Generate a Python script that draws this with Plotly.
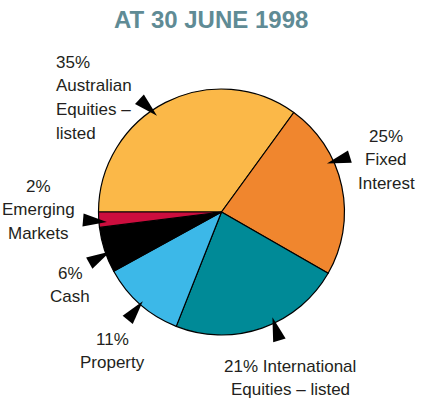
import math
import plotly.graph_objects as go

# ---------------- data ----------------
categories = ["Australian Equities – listed", "Fixed Interest",
              "International Equities – listed", "Property", "Cash",
              "Emerging Markets"]
values = [35, 23.3, 22.7, 11, 6, 2]          # slice sizes as drawn
pct_labels = ["35%", "25%", "21%", "11%", "6%", "2%"]
label_lines = [
    ["35%", "Australian", "Equities –", "listed"],
    ["25%", "Fixed", "Interest"],
    ["21% International", "Equities – listed"],
    ["11%", "Property"],
    ["6%", "Cash"],
    ["2%", "Emerging", "Markets"],
]
title_text = "AT 30 JUNE 1998"

# ---------------- styles / layout ----------------
colors = ["#FBB848", "#F0862E", "#008A97", "#3CB8E8", "#000000", "#CC0E3E"]
W, H = 422, 405
CX, CY, R = 221.5, 212.0, 123.0
START = 270.0  # degrees clockwise from 12 o'clock

def px(x):
    return x / W

def py(y):
    return 1 - y / H

# label placement: (anchor x px, xanchor, first baseline px)
label_pos = [
    (54, "left", 68),
    (386, "center", 142),
    (290, "center", 372),
    (112, "center", 345),
    (70, "center", 279),
    (38, "center", 192),
]
LINE_GAP = 23.7
FONT = "Liberation Sans, Arial, sans-serif"
FSIZE = 17

# arrow: fraction through slice, inset from edge (px), pointing direction (deg, screen)
arrow_par = [
    (0.446, 7, 43),
    (0.35, 7, 163),
    (0.42, 6, -107),
    (0.50, 4, -51),
    (0.43, 5, -29),
    (0.30, 8, 5),
]
A_LEN, A_HALF = 24, 6.5

fig = go.Figure(go.Pie(
    labels=categories,
    values=values,
    sort=False,
    direction="clockwise",
    rotation=START,
    marker=dict(colors=colors, line=dict(color="#000000", width=1.2)),
    textinfo="none",
    hoverinfo="none",
    showlegend=False,
    domain=dict(x=[px(CX - R), px(CX + R)], y=[py(CY + R), py(CY - R)]),
))

annotations = []
for lines, (ax, xanc, base) in zip(label_lines, label_pos):
    for i, ln in enumerate(lines):
        b = base + i * LINE_GAP
        annotations.append(dict(
            text=ln, x=px(ax), y=py(b - 6), xref="paper", yref="paper",
            xanchor=xanc, yanchor="middle", showarrow=False,
            font=dict(family=FONT, size=FSIZE, color="#231F20")))

shapes = []
total = sum(values)
cum = 0.0
for v, (frac, inset, dirdeg) in zip(values, arrow_par):
    a0 = START + cum / total * 360
    span = v / total * 360
    ang = math.radians(a0 + frac * span)
    cum += v
    rr = R - inset
    tx = CX + rr * math.sin(ang)
    ty = CY - rr * math.cos(ang)
    d = math.radians(dirdeg)
    ux, uy = math.cos(d), math.sin(d)
    bx, by = tx - A_LEN * ux, ty - A_LEN * uy
    nx, ny = -uy, ux
    p1 = (bx + A_HALF * nx, by + A_HALF * ny)
    p2 = (bx - A_HALF * nx, by - A_HALF * ny)
    path = "M{:.4f},{:.4f} L{:.4f},{:.4f} L{:.4f},{:.4f} Z".format(
        px(tx), py(ty), px(p1[0]), py(p1[1]), px(p2[0]), py(p2[1]))
    shapes.append(dict(type="path", path=path, xref="paper", yref="paper",
                       fillcolor="#000000", line=dict(width=0)))

annotations.append(dict(
    text=title_text, x=0.5, y=py(19), xref="paper", yref="paper",
    xanchor="center", yanchor="middle", showarrow=False,
    font=dict(family=FONT, size=24, color="#5F8B95", weight=700)))

fig.update_layout(
    width=W, height=H,
    margin=dict(l=0, r=0, t=0, b=0),
    paper_bgcolor="white", plot_bgcolor="white",
    annotations=annotations,
    shapes=shapes,
)

fig.write_html("out.html",
               config={"displayModeBar": False},
               post_script="document.body.style.margin='0px';"
                           "document.body.style.padding='0px';")
